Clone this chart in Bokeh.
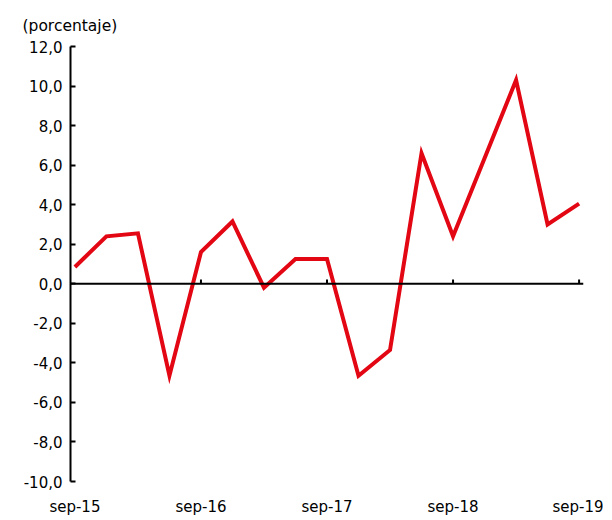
from bokeh.plotting import figure
from bokeh.models import Span, FixedTicker, Range1d, Title
from bokeh.embed import file_html
from bokeh.resources import INLINE

# Data (quarterly, sep-15 .. sep-19)
quarters = ["sep-15", "dic-15", "mar-16", "jun-16", "sep-16", "dic-16", "mar-17", "jun-17",
            "sep-17", "dic-17", "mar-18", "jun-18", "sep-18", "dic-18", "mar-19", "jun-19", "sep-19"]
values = [0.85, 2.4, 2.55, -4.65, 1.6, 3.15, -0.2, 1.25, 1.25, -4.65, -3.35, 6.6, 2.4, 6.35, 10.3, 3.0, 4.05]
x_tick_idx = [0, 4, 8, 12, 16]
x_tick_labels = ["sep-15", "sep-16", "sep-17", "sep-18", "sep-19"]
y_ticks = [-10, -8, -6, -4, -2, 0, 2, 4, 6, 8, 10, 12]
y_tick_labels = ["-10,0", "-8,0", "-6,0", "-4,0", "-2,0", "0,0", "2,0", "4,0", "6,0", "8,0", "10,0", "12,0"]

FONT = "DejaVu Sans"
RED = "#E30613"

x = list(range(len(values)))

p = figure(frame_width=513, frame_height=435, output_backend="svg", toolbar_location=None,
           x_range=Range1d(-0.14, 16.14), y_range=Range1d(-10, 12),
           min_border_left=70, min_border_top=46, min_border_right=20, min_border_bottom=30)
p.outline_line_color = None
p.xgrid.grid_line_color = None
p.ygrid.grid_line_color = None
p.background_fill_color = "white"
p.border_fill_color = "white"

# y axis
p.yaxis.ticker = FixedTicker(ticks=y_ticks)
p.yaxis.major_label_overrides = {t: l for t, l in zip(y_ticks, y_tick_labels)}
p.yaxis.axis_line_color = "black"
p.yaxis.axis_line_width = 2
p.yaxis.major_tick_in = 5
p.yaxis.major_tick_out = 0
p.yaxis.major_tick_line_width = 2
p.yaxis.minor_tick_line_color = None
p.yaxis.major_label_standoff = 8
p.yaxis.major_label_text_font = FONT
p.yaxis.major_label_text_font_size = "15px"
p.yaxis.major_label_text_color = "black"

# x axis: labels only
p.xaxis.ticker = FixedTicker(ticks=x_tick_idx)
p.xaxis.major_label_overrides = {t: l for t, l in zip(x_tick_idx, x_tick_labels)}
p.xaxis.axis_line_color = None
p.xaxis.major_tick_line_color = None
p.xaxis.minor_tick_line_color = None
p.xaxis.major_label_standoff = 10
p.xaxis.major_label_text_font = FONT
p.xaxis.major_label_text_font_size = "15px"
p.xaxis.major_label_text_color = "black"

# zero line with small ticks
p.add_layout(Span(location=0, dimension="width", line_color="black", line_width=2))
p.segment(x0=x_tick_idx[1:], y0=[0] * 4, x1=x_tick_idx[1:], y1=[0.22] * 4,
          line_color="black", line_width=2)

p.line(x, values, line_color=RED, line_width=4, line_join="miter")

p.add_layout(Title(text="(porcentaje)", align="left", offset=-48,
                   text_font=FONT, text_font_size="15.5px", text_font_style="normal",
                   text_color="black", standoff=24), "above")

open("out.html", "w").write(file_html(p, INLINE))
